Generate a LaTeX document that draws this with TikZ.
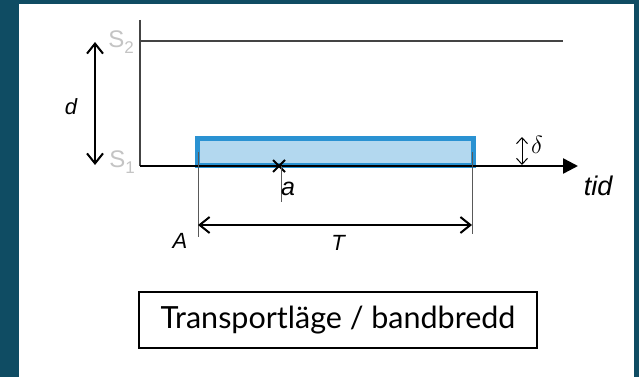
\documentclass[tikz,border=0pt]{standalone}
\usepackage{fontspec}
\setmainfont{Liberation Sans}
\newfontfamily\latofont{Lato}
\usetikzlibrary{arrows.meta, positioning}
\definecolor{framecolor}{HTML}{0F4C63}
\definecolor{bandcolor}{HTML}{2A92D2}
\definecolor{bandfill}{HTML}{B3D8EF}
\definecolor{levelgray}{HTML}{C4C4C4}
\definecolor{axisgray}{HTML}{444444}
\newcommand{\levelname}[1]{S\raisebox{-0.28em}{\fontsize{17}{18}\selectfont #1}}

\begin{document}
\begin{tikzpicture}[x=1pt, y=-1pt]
	\tikzstyle{lbl}=[font=\itshape\fontsize{22}{24}\selectfont, inner sep=0pt]
	\tikzstyle{lvl}=[text=levelgray, font=\fontsize{24}{26}\selectfont, inner sep=0pt]
	\tikzstyle{dimarrow}=[line width=2pt, {Straight Barb[length=10pt,width=16pt]}-{Straight Barb[length=10pt,width=16pt]}]
	\tikzstyle{guide}=[line width=0.8pt, black!65]
	% frame
	\fill[framecolor] (0,0) rectangle (639,377);
	\fill[white] (19,4) rectangle (634,377);
	% axes and levels
	\coordinate (o) at (140,166);
	\coordinate (ytop) at (140,20);
	\coordinate (tend) at (578,166);
	\coordinate (s2l) at (140,41);
	\coordinate (s2r) at (563,41);
	\draw[bandcolor, fill=bandfill, line width=5pt] (197.5,138.5) rectangle (473.5,165.5);
	\draw[axisgray, line width=2pt] (ytop) -- (o);
	\draw[axisgray, line width=1.5pt] (s2l) -- (s2r);
	\draw[line width=2.5pt, -{Triangle[length=15pt,width=15pt]}] (o) -- (tend);
	\node (s2) at (121,42) [lvl]{\levelname{2}};
	\node (s1) at (122,162) [lvl]{\levelname{1}};
	\node (tid) at (598,186) [lbl, font=\itshape\fontsize{27}{30}\selectfont]{tid};
	% d between the levels
	\coordinate (dtop) at (95,42);
	\coordinate (dbot) at (95,165);
	\draw[dimarrow] (dtop) -- (dbot);
	\node (d) at (71,107) [lbl]{d};
	% band height
	\coordinate (deltop) at (522,137);
	\coordinate (delbot) at (522,165);
	\draw[line width=1pt, {Straight Barb[length=6pt,width=11pt]}-{Straight Barb[length=6pt,width=11pt]}] (deltop) -- (delbot);
	\node (delta) at (537,145) [inner sep=0pt, font=\fontsize{27}{30}\selectfont]{$\delta$};
	% start point a
	\coordinate (xa) at (279,166);
	\draw[line width=2pt] ([shift={(-6,-6)}]xa) -- ([shift={(6,6)}]xa);
	\draw[line width=2pt] ([shift={(-6,6)}]xa) -- ([shift={(6,-6)}]xa);
	\coordinate (atop) at (281,166);
	\coordinate (abot) at (281,202);
	\draw[guide] (atop) -- (abot);
	\node (a) at (288,189) [lbl, font=\itshape\fontsize{25}{27}\selectfont]{a};
	% duration T
	\coordinate (Atop) at (198,152);
	\coordinate (Abot) at (198,237);
	\coordinate (Etop) at (472,152);
	\coordinate (Ebot) at (472,234);
	\draw[guide] (Atop) -- (Abot);
	\draw[guide] (Etop) -- (Ebot);
	\coordinate (Tl) at (198,225);
	\coordinate (Tr) at (472,225);
	\draw[dimarrow] (Tl) -- (Tr);
	\node (A) at (180,241) [lbl]{A};
	\node (T) at (338,243) [lbl]{T};
	% caption
	\node (caption) at (338,320) [draw, line width=1.3pt, minimum width=398pt, minimum height=56pt, font=\latofont\fontsize{30.5}{36}\selectfont]{Transportläge / bandbredd};
\end{tikzpicture}
\end{document}
